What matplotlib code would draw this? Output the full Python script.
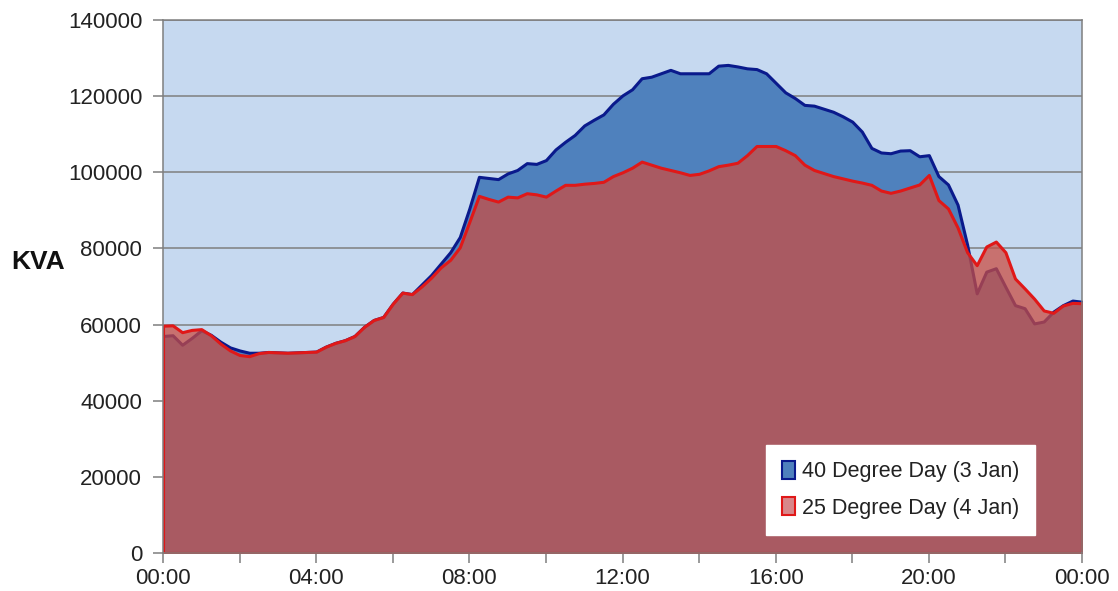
import numpy as np
import matplotlib.pyplot as plt
from matplotlib.patches import Patch

plt.rcParams['font.family'] = ['Liberation Sans', 'DejaVu Sans']

# 15-minute readings over the day (hours from midnight)
hours = np.arange(97) * 0.25

kva_40deg = [57000, 57200, 54700, 56500, 58500, 57300, 55500, 54000, 53200, 52600,
             52600, 52800, 52700, 52600, 52700, 52800, 52900, 54200, 55200, 55900,
             57000, 59400, 61200, 62000, 65500, 68400, 68000, 70500, 73000, 76000,
             79000, 83000, 90500, 98800, 98500, 98200, 99700, 100600, 102400, 102200,
             103200, 106000, 108000, 109800, 112300, 113800, 115200, 118000, 120200, 121800,
             124700, 125100, 126000, 126900, 126000, 126000, 126000, 126000, 128000, 128200,
             127800, 127300, 127100, 126000, 123500, 121000, 119500, 117700, 117500, 116700,
             115900, 114700, 113300, 110700, 106400, 105200, 105000, 105700, 105800, 104200,
             104500, 99000, 96800, 91500, 81000, 68200, 73900, 74800, 69900, 65100,
             64300, 60300, 60800, 63400, 65100, 66300, 66000]

kva_25deg = [59700, 59800, 58000, 58600, 58800, 57200, 55000, 53200, 52000, 51700,
             52500, 52800, 52700, 52600, 52700, 52800, 52900, 54200, 55200, 55900,
             57000, 59400, 61200, 62000, 65500, 68400, 68000, 70000, 72300, 75000,
             77000, 80300, 87000, 93800, 93000, 92300, 93600, 93400, 94500, 94200,
             93600, 95200, 96700, 96700, 97000, 97200, 97500, 99000, 100000, 101200,
             102800, 102000, 101200, 100600, 100000, 99300, 99600, 100500, 101600, 102000,
             102500, 104500, 106900, 106900, 106900, 105800, 104500, 102000, 100600, 99800,
             99000, 98400, 97800, 97300, 96700, 95200, 94600, 95200, 96000, 96800,
             99300, 92700, 90500, 85500, 79000, 75600, 80500, 81800, 79000, 72100,
             69500, 66800, 63700, 63100, 65000, 65700, 65600]

labels = ['40 Degree Day (3 Jan)', '25 Degree Day (4 Jan)']
tick_hours = [0, 4, 8, 12, 16, 20, 24]
tick_labels = ['00:00', '04:00', '08:00', '12:00', '16:00', '20:00', '00:00']

blue_fill = '#4F81BD'
blue_edge = '#0A1A8C'
red_fill = (0.79, 0.30, 0.26, 0.74)
red_edge = '#E01818'
grid_col = '#7F7F7F'
text_col = '#222222'

fig = plt.figure(figsize=(11.18, 5.91), dpi=100)
ax = fig.add_axes([0.1458, 0.0643, 0.8220, 0.9019])
ax.set_facecolor('#C6D9F0')

# areas: hot day behind, mild day in front with some transparency
ax.fill_between(hours, kva_40deg, 0, facecolor=blue_fill, edgecolor=blue_edge,
                linewidth=2.2, zorder=2)
ax.fill_between(hours, kva_25deg, 0, facecolor=red_fill, edgecolor=red_edge,
                linewidth=2.2, zorder=3)

ax.set_xlim(0, 24)
ax.set_ylim(0, 140000)
ax.set_yticks(np.arange(0, 140001, 20000))
ax.set_yticklabels([str(v) for v in range(0, 140001, 20000)])
ax.set_xticks(tick_hours)
ax.set_xticklabels(tick_labels)
ax.set_xticks(np.arange(0, 25, 2), minor=True)

ax.grid(axis='y', color=grid_col, linewidth=1.1, zorder=1)
ax.set_axisbelow(True)
for s in ax.spines.values():
    s.set_color(grid_col)
    s.set_linewidth(1.1)
    s.set_zorder(4)

ax.tick_params(axis='both', which='both', direction='out', color=grid_col,
               length=7, width=1.1, labelsize=16, labelcolor=text_col)
ax.tick_params(axis='x', pad=4)
ax.tick_params(axis='y', pad=8)

fig.text(0.010, 0.557, 'KVA', fontsize=19, fontweight='bold', color='#111111',
         va='center', ha='left')

handles = [Patch(facecolor=blue_fill, edgecolor=blue_edge, linewidth=1.5),
           Patch(facecolor='#D8878A', edgecolor=red_edge, linewidth=1.5)]
leg = ax.legend(handles, labels, loc='lower right', bbox_to_anchor=(0.949, 0.034),
                fontsize=15.5, frameon=True, fancybox=False, framealpha=1,
                edgecolor='white', facecolor='white', handlelength=0.6,
                handleheight=0.9, handletextpad=0.3, labelspacing=0.7,
                borderpad=0.75, borderaxespad=0)
for t in leg.get_texts():
    t.set_color(text_col)
leg.set_zorder(6)

fig.savefig('out.png', dpi=100)
